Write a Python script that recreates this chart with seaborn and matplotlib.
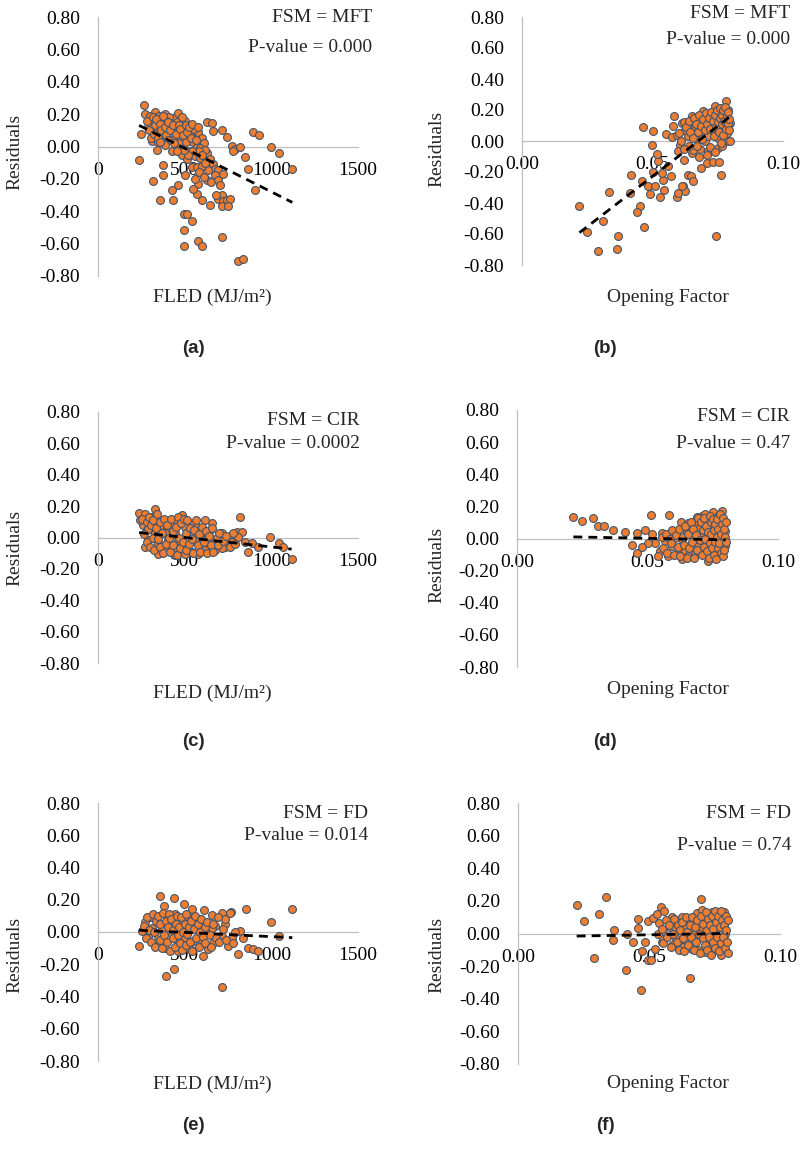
import numpy as np
import pandas as pd
import matplotlib
matplotlib.use("Agg")
import matplotlib.pyplot as plt
import seaborn as sns
from matplotlib.ticker import FuncFormatter

# residuals vs FLED (MJ/m2) / opening factor, one list of (x, residual) per panel
pts_a = [(265, 0.258), (237, -0.082), (248, 0.078),
         (271, 0.201), (300, 0.170), (329, 0.211), (348, 0.160), (319, 0.150), (367, 0.180),
         (387, 0.201), (396, 0.139), (425, 0.160), (444, 0.180), (463, 0.207), (473, 0.160),
         (492, 0.139), (502, 0.160), (521, 0.119), (540, 0.098), (560, 0.068), (579, 0.088),
         (550, 0.027), (588, 0.027), (569, -0.004), (531, -0.025),
         (627, 0.150), (660, 0.146), (665, 0.094), (714, 0.105), (742, 0.061), (627, -0.041),
         (608, -0.076), (646, -0.076), (665, -0.107), (675, -0.137), (637, -0.144), (694, -0.148),
         (675, -0.179), (627, -0.209), (579, -0.230), (598, -0.332), (646, -0.363), (569, -0.291),
         (550, -0.261), (463, -0.240), (425, -0.267), (435, -0.332), (358, -0.332), (319, -0.215),
         (377, -0.179), (377, -0.117), (310, 0.037), (348, 0.027), (425, -0.025), (463, -0.004),
         (483, -0.055), (512, -0.076), (540, -0.127), (502, -0.179), (569, -0.127),
         (771, 0.006), (790, -0.014), (819, 0.0), (781, -0.025), (848, -0.066), (867, -0.137),
         (906, -0.267), (892, 0.092), (929, 0.068), (996, 0.0), (1044, -0.041), (1121, -0.137),
         (694, -0.322), (714, -0.302), (723, -0.336), (742, -0.332), (762, -0.322), (714, -0.369),
         (752, -0.369), (498, -0.414), (512, -0.414), (544, -0.462), (494, -0.513), (717, -0.558),
         (575, -0.585), (598, -0.615), (496, -0.615), (810, -0.708), (839, -0.697),
         (290, 0.12), (310, 0.14), (340, 0.10), (360, 0.13), (380, 0.09), (400, 0.11), (420, 0.07),
         (440, 0.12), (460, 0.09), (480, 0.05), (500, 0.10), (520, 0.06), (455, 0.15), (410, 0.18),
         (350, 0.19), (300, 0.19), (330, 0.13), (370, 0.06), (390, 0.16), (470, 0.02), (510, 0.03),
         (530, 0.08), (555, 0.11), (600, 0.05), (610, 0.02), (590, -0.01), (620, -0.02),
         (560, -0.06), (600, -0.12), (590, -0.07),
         (280, 0.16), (295, 0.10), (305, 0.05), (315, 0.18), (325, 0.08), (335, 0.17), (345, 0.05),
         (355, 0.14), (365, 0.10), (375, 0.19), (385, 0.12), (395, 0.07), (405, 0.15), (415, 0.10),
         (430, 0.13), (435, 0.04), (450, 0.08), (465, 0.13), (475, 0.11), (485, 0.18), (490, 0.07),
         (505, 0.13), (515, 0.09), (525, 0.12), (535, 0.05), (545, 0.14), (565, 0.04), (575, 0.12),
         (585, -0.03), (545, -0.03), (520, -0.05), (495, -0.02), (455, -0.03), (440, 0.02),
         (405, 0.04), (385, 0.01), (360, 0.03), (340, -0.02), (600, -0.05), (615, -0.10),
         (585, -0.16), (560, -0.20), (610, -0.19), (650, -0.22), (690, -0.21), (680, -0.30),
         (720, -0.17), (705, -0.24)]

pts_b = [(0.0220, -0.421), (0.0250, -0.587), (0.0290, -0.707), (0.0363, -0.697), (0.0369, -0.615),
         (0.0312, -0.514), (0.0335, -0.331), (0.0418, -0.217), (0.0414, -0.335), (0.0452, -0.417),
         (0.0439, -0.460), (0.0469, -0.557), (0.0459, -0.260), (0.0484, -0.292), (0.0510, -0.292),
         (0.0490, -0.342), (0.0529, -0.363), (0.0545, -0.314), (0.0541, -0.249), (0.0503, -0.202),
         (0.0538, -0.207), (0.0571, -0.228), (0.0561, -0.163), (0.0522, -0.131), (0.0516, -0.082),
         (0.0499, -0.024), (0.0503, 0.062), (0.0462, 0.090), (0.0552, 0.047), (0.0580, 0.094),
         (0.0584, 0.159), (0.0576, 0.026), (0.0605, -0.024), (0.0599, -0.067), (0.0622, -0.120),
         (0.0650, -0.077), (0.0637, -0.217), (0.0648, -0.228), (0.0656, -0.260), (0.0618, -0.292),
         (0.0625, -0.325), (0.0593, -0.361), (0.0612, -0.292), (0.0599, -0.335), (0.0686, -0.174),
         (0.0707, -0.142), (0.0733, -0.138), (0.0755, -0.138), (0.0761, -0.217), (0.0742, -0.615),
         (0.0714, -0.067), (0.0682, -0.052), (0.0656, -0.056), (0.0752, -0.045), (0.0765, -0.034),
         (0.0791, -0.002), (0.0784, 0.052), (0.0771, 0.094), (0.0778, 0.138), (0.0782, 0.260),
         (0.0791, 0.202), (0.0752, 0.181), (0.0727, 0.159), (0.0701, 0.116), (0.0676, 0.138),
         (0.0650, 0.159), (0.0663, 0.094), (0.0625, 0.073), (0.0637, 0.030), (0.0688, 0.052),
         (0.0727, 0.062), (0.0752, 0.019), (0.0701, -0.002), (0.0669, 0.009), (0.0612, 0.116),
         (0.0593, 0.041), (0.0695, 0.191), (0.0739, 0.224), (0.0765, 0.191), (0.0797, 0.116),
         (0.0778, 0.170), (0.0733, 0.105), (0.0714, 0.030),
         (0.0600, 0.05), (0.0610, 0.00), (0.0620, 0.12), (0.0630, 0.09), (0.0640, 0.13),
         (0.0645, 0.06), (0.0655, 0.02), (0.0660, 0.15), (0.0665, 0.11), (0.0670, -0.03),
         (0.0675, 0.06), (0.0680, 0.17), (0.0685, 0.10), (0.0690, 0.01), (0.0695, 0.14),
         (0.0700, 0.07), (0.0705, 0.18), (0.0710, 0.11), (0.0715, 0.15), (0.0720, -0.04),
         (0.0720, 0.08), (0.0725, 0.19), (0.0730, 0.13), (0.0735, 0.03), (0.0740, 0.17),
         (0.0745, 0.09), (0.0748, 0.20), (0.0750, 0.12), (0.0755, 0.06), (0.0758, 0.15),
         (0.0760, 0.21), (0.0762, -0.01), (0.0765, 0.11), (0.0768, 0.17), (0.0770, 0.04),
         (0.0772, 0.20), (0.0775, 0.13), (0.0778, 0.22), (0.0780, 0.08), (0.0785, 0.16),
         (0.0788, 0.11), (0.0790, 0.19), (0.0793, 0.07), (0.0795, 0.14), (0.0798, 0.00),
         (0.0640, -0.03), (0.0620, -0.05), (0.0680, -0.10), (0.0710, -0.09), (0.0740, -0.07)]

pts_c = [(237, 0.153), (271, 0.149), (329, 0.179), (310, 0.132), (348, 0.106), (262, 0.079),
         (281, 0.047), (242, 0.110), (367, 0.079), (396, 0.051), (425, 0.089), (444, 0.110),
         (483, 0.142), (502, 0.068), (540, 0.089), (569, 0.068), (598, 0.036), (656, 0.094),
         (617, 0.110), (646, 0.047), (714, 0.026), (771, 0.015), (800, 0.036), (819, 0.132),
         (829, 0.036), (810, 0.004), (733, -0.060), (752, -0.038), (848, -0.028), (887, -0.032),
         (867, -0.091), (925, -0.060), (992, 0.004), (1044, -0.034), (1117, -0.134), (1069, -0.060),
         (406, -0.017), (348, -0.038), (290, -0.017), (271, -0.060), (387, -0.081), (444, -0.081),
         (502, -0.060), (540, -0.091), (579, -0.102), (637, -0.060), (675, -0.081), (714, -0.070),
         (617, -0.017), (560, -0.017), (463, -0.017), (521, 0.026), (387, 0.026), (329, 0.026),
         (290, 0.057), (444, 0.026), (540, 0.026), (675, -0.017), (771, -0.028), (617, -0.081),
         (502, -0.102), (444, -0.113), (348, -0.102),
         (255, 0.12), (265, 0.02), (280, 0.10), (285, -0.03), (295, 0.13), (300, -0.06),
         (305, 0.08), (315, 0.00), (320, 0.11), (325, -0.08), (335, 0.06), (340, 0.15),
         (345, -0.01), (355, 0.10), (360, -0.06), (370, 0.03), (375, -0.10), (380, 0.12),
         (395, -0.04), (400, 0.08), (410, 0.00), (415, -0.09), (420, 0.12), (430, 0.04),
         (435, -0.05), (450, 0.07), (455, -0.11), (460, 0.13), (470, 0.00), (475, -0.07),
         (480, 0.09), (490, -0.03), (495, 0.12), (505, 0.03), (510, -0.08), (515, 0.11),
         (525, -0.04), (530, 0.06), (545, -0.01), (550, -0.10), (555, 0.05), (565, 0.11),
         (575, -0.05), (585, 0.02), (590, -0.09), (600, 0.07), (610, -0.03), (625, 0.04),
         (630, -0.10), (640, 0.01), (650, -0.05), (660, 0.06), (665, -0.09), (685, 0.00),
         (690, -0.05), (700, 0.03), (720, -0.02), (740, 0.01), (760, -0.06), (780, 0.03),
         (790, -0.04)]

pts_d = [(0.0216, 0.131), (0.0250, 0.110), (0.0292, 0.125), (0.0309, 0.075), (0.0335, 0.079),
         (0.0369, 0.054), (0.0414, 0.042), (0.0458, 0.037), (0.0490, 0.054), (0.0513, 0.146),
         (0.0582, 0.146), (0.0439, -0.042), (0.0458, -0.088), (0.0516, 0.027), (0.0554, 0.033),
         (0.0529, -0.025), (0.0567, -0.015), (0.0593, -0.046), (0.0548, -0.077), (0.0580, -0.108),
         (0.0618, -0.088), (0.0644, -0.077), (0.0631, -0.004), (0.0628, 0.100), (0.0656, 0.096),
         (0.0650, 0.048), (0.0669, 0.037), (0.0695, 0.089), (0.0707, 0.142), (0.0720, 0.152),
         (0.0733, 0.121), (0.0752, 0.162), (0.0787, 0.173), (0.0778, 0.110), (0.0797, 0.048),
         (0.0765, 0.058), (0.0746, 0.006), (0.0720, -0.025), (0.0695, -0.046), (0.0682, -0.098),
         (0.0733, -0.140), (0.0771, -0.108), (0.0784, -0.067), (0.0746, -0.088), (0.0707, 0.017),
         (0.0676, -0.004), (0.0605, 0.006), (0.0503, -0.025), (0.0478, -0.056), (0.0541, -0.108),
         (0.0631, -0.129), (0.0656, -0.108), (0.0797, -0.046), (0.0791, -0.004), (0.0771, 0.142),
         (0.0739, 0.079), (0.0701, 0.069), (0.0688, 0.131),
         (0.0555, 0.01), (0.0560, -0.06), (0.0570, 0.03), (0.0575, -0.09), (0.0585, 0.00),
         (0.0590, -0.03), (0.0595, 0.05), (0.0600, -0.10), (0.0610, 0.02), (0.0615, -0.05),
         (0.0620, 0.06), (0.0625, -0.11), (0.0635, 0.01), (0.0640, -0.04), (0.0645, 0.08),
         (0.0650, -0.12), (0.0655, 0.03), (0.0660, -0.06), (0.0665, 0.10), (0.0670, -0.02),
         (0.0675, 0.06), (0.0680, -0.12), (0.0685, 0.02), (0.0690, -0.07), (0.0695, 0.13),
         (0.0700, -0.01), (0.0705, 0.10), (0.0710, -0.10), (0.0712, 0.05), (0.0715, -0.05),
         (0.0718, 0.13), (0.0722, 0.00), (0.0725, 0.08), (0.0728, -0.08), (0.0730, 0.04),
         (0.0735, -0.12), (0.0738, 0.14), (0.0740, -0.03), (0.0742, 0.10), (0.0745, 0.03),
         (0.0748, -0.06), (0.0750, 0.12), (0.0753, -0.10), (0.0755, 0.05), (0.0758, -0.02),
         (0.0760, 0.09), (0.0762, -0.13), (0.0765, 0.01), (0.0768, 0.12), (0.0770, -0.06),
         (0.0772, 0.06), (0.0775, -0.03), (0.0778, 0.15), (0.0780, -0.09), (0.0782, 0.03),
         (0.0785, 0.09), (0.0788, -0.11), (0.0790, 0.13), (0.0792, 0.06), (0.0795, -0.07),
         (0.0798, 0.01), (0.0800, 0.10), (0.0800, -0.02)]

pts_e = [(358, 0.225), (440, 0.211), (498, 0.173), (540, 0.142), (613, 0.136), (383, 0.163),
         (396, 0.100), (319, 0.090), (271, 0.059), (252, 0.007), (237, -0.087), (290, -0.025),
         (339, -0.077), (387, -0.098), (367, 0.027), (425, 0.048), (444, 0.111), (492, 0.069),
         (521, 0.090), (569, 0.079), (598, 0.048), (660, 0.104), (714, 0.117), (767, 0.121),
         (733, 0.048), (675, 0.038), (637, -0.014), (588, -0.046), (550, -0.056), (502, -0.035),
         (463, -0.066), (425, -0.014), (348, -0.025), (310, 0.027), (300, 0.090), (608, -0.150),
         (637, -0.108), (665, -0.066), (714, -0.025), (752, -0.087), (771, -0.035), (819, 0.007),
         (810, -0.139), (852, 0.142), (839, -0.035), (867, -0.098), (892, -0.108), (925, -0.118),
         (996, 0.063), (1044, -0.025), (1121, 0.142), (439, -0.227), (390, -0.270), (717, -0.343),
         (531, -0.108), (463, -0.118), (733, 0.079), (656, 0.027),
         (265, 0.04), (275, -0.04), (285, 0.09), (295, 0.01), (305, -0.06), (315, 0.11),
         (325, 0.00), (330, -0.09), (335, 0.07), (345, 0.10), (355, -0.05), (360, 0.05),
         (370, -0.10), (375, 0.12), (380, -0.02), (390, 0.07), (400, -0.06), (405, 0.03),
         (410, 0.11), (415, -0.12), (420, 0.08), (430, -0.04), (435, 0.01), (445, -0.09),
         (450, 0.05), (455, 0.10), (460, -0.02), (470, 0.03), (475, -0.07), (480, 0.09),
         (485, -0.11), (490, 0.00), (500, 0.05), (505, -0.08), (510, 0.11), (515, -0.01),
         (525, 0.03), (530, -0.06), (535, 0.07), (545, -0.12), (555, 0.02), (560, 0.10),
         (565, -0.04), (575, 0.05), (580, -0.09), (590, 0.00), (595, 0.08), (605, -0.03),
         (615, 0.03), (620, -0.07), (630, 0.06), (645, -0.02), (650, -0.09), (665, 0.05),
         (680, -0.04), (690, 0.09), (700, -0.06), (720, 0.02), (740, -0.05), (760, 0.12),
         (780, -0.07), (790, 0.00)]

pts_f = [(0.0224, 0.174), (0.0252, 0.078), (0.0291, -0.148), (0.0310, 0.119), (0.0335, 0.226),
         (0.0368, 0.021), (0.0361, -0.037), (0.0415, 0.000), (0.0412, -0.226), (0.0440, -0.055),
         (0.0459, 0.031), (0.0457, 0.088), (0.0469, -0.344), (0.0475, -0.107), (0.0485, -0.051),
         (0.0497, -0.164), (0.0508, -0.164), (0.0495, 0.078), (0.0517, 0.098), (0.0529, 0.119),
         (0.0546, 0.164), (0.0558, 0.139), (0.0539, 0.066), (0.0523, -0.092), (0.0548, -0.051),
         (0.0561, -0.010), (0.0580, 0.041), (0.0587, 0.103), (0.0625, 0.103), (0.0599, -0.021),
         (0.0612, -0.082), (0.0637, -0.051), (0.0656, 0.082), (0.0658, -0.273), (0.0663, 0.021),
         (0.0682, 0.123), (0.0698, 0.209), (0.0701, 0.143), (0.0714, 0.062), (0.0726, 0.000),
         (0.0739, 0.133), (0.0758, 0.133), (0.0777, 0.103), (0.0787, 0.133), (0.0790, 0.000),
         (0.0775, -0.133), (0.0739, -0.113), (0.0714, -0.113), (0.0688, -0.103), (0.0663, -0.092),
         (0.0631, -0.082), (0.0587, -0.072), (0.0555, -0.031), (0.0765, -0.051), (0.0726, -0.062),
         (0.0688, -0.021), (0.0765, 0.051), (0.0739, 0.062), (0.0701, 0.041), (0.0637, 0.041),
         (0.0599, 0.041), (0.0536, 0.000), (0.0777, -0.041), (0.0752, 0.000), (0.0676, 0.000),
         (0.0550, 0.03), (0.0555, -0.06), (0.0565, 0.08), (0.0570, -0.02), (0.0575, 0.05),
         (0.0585, -0.08), (0.0590, 0.00), (0.0595, 0.09), (0.0605, -0.05), (0.0610, 0.05),
         (0.0615, -0.10), (0.0620, 0.02), (0.0625, 0.07), (0.0630, -0.03), (0.0635, -0.11),
         (0.0640, 0.10), (0.0645, 0.01), (0.0650, -0.07), (0.0655, 0.05), (0.0660, -0.02),
         (0.0665, 0.10), (0.0670, -0.10), (0.0675, 0.04), (0.0680, -0.05), (0.0685, 0.08),
         (0.0690, 0.00), (0.0695, -0.12), (0.0700, 0.11), (0.0705, -0.03), (0.0708, 0.06),
         (0.0712, -0.07), (0.0716, 0.13), (0.0720, 0.02), (0.0723, -0.10), (0.0727, 0.09),
         (0.0730, -0.02), (0.0733, 0.05), (0.0737, -0.13), (0.0740, 0.11), (0.0743, -0.05),
         (0.0746, 0.03), (0.0750, 0.14), (0.0753, -0.09), (0.0756, 0.07), (0.0760, -0.02),
         (0.0763, 0.11), (0.0766, -0.11), (0.0770, 0.04), (0.0773, 0.14), (0.0776, -0.06),
         (0.0780, 0.08), (0.0783, -0.02), (0.0786, 0.05), (0.0789, -0.09), (0.0792, 0.11),
         (0.0795, 0.02), (0.0798, -0.05), (0.0800, 0.08), (0.0800, -0.12)]

# linear trend lines (intercept, slope)
trend_a = (0.258, -0.000538)
trend_b = (-0.877, 12.98)
trend_c = (0.060, -0.00012)
trend_d = (0.0169, -0.317)
trend_e = (0.0231, -0.0000518)
trend_f = (-0.0222, 0.285)

fsm = ["MFT", "MFT", "CIR", "CIR", "FD", "FD"]
pvals = ["0.000", "0.000", "0.0002", "0.47", "0.014", "0.74"]
tags = ["(a)", "(b)", "(c)", "(d)", "(e)", "(f)"]

sns.set_theme(style="white")
plt.rcParams['font.family'] = ['Liberation Serif', 'DejaVu Serif']

W, H = 805, 1149
fig = plt.figure(figsize=(W / 100, H / 100), dpi=100)

# axes boxes in pixels: left, right, top, bottom
boxes = [(98, 358, 17, 276), (522, 783, 17, 265),
         (98, 358, 412, 663), (517, 778, 410, 667),
         (98, 358, 803, 1061), (518, 780, 803, 1064)]
xlabel_y = [297, 298, 693, 690, 1084, 1083]
ylabel_pos = [(15, 152), (437, 149), (15, 548), (437, 565), (15, 955), (437, 955)]
note_pos = [(372, 18, 47), (790, 13, 40), (360, 420, 443), (790, 417, 443),
            (368, 813, 836), (791, 813, 845)]
tag_y = [349, 349, 742, 742, 1125, 1125]

data = [pts_a, pts_b, pts_c, pts_d, pts_e, pts_f]
trends = [trend_a, trend_b, trend_c, trend_d, trend_e, trend_f]
grey = '#bfbfbf'
fs = 14


def fmt2(v, pos):
    return '%.2f' % (0.0 if abs(v) < 1e-9 else v)


for i in range(6):
    l, r, t, b = boxes[i]
    ax = fig.add_axes([l / W, 1 - b / H, (r - l) / W, (b - t) / H])
    fled = (i % 2 == 0)
    df = pd.DataFrame(data[i], columns=['x', 'res'])
    sns.scatterplot(data=df, x='x', y='res', ax=ax, color='#ED7D31', edgecolor='#44546A',
                    s=32, linewidth=0.8, zorder=3)
    b0, b1 = trends[i]
    xs = np.array([df.x.min(), df.x.max()])
    sns.lineplot(x=xs, y=b0 + b1 * xs, ax=ax, color='black', lw=2.0, zorder=4)
    ax.lines[-1].set_dashes([3.2, 2.2])

    if fled:
        ax.set_xlim(0, 1500)
        ax.set_xticks([0, 500, 1000, 1500])
        ax.xaxis.set_major_formatter(FuncFormatter(lambda v, p: '%d' % v))
    else:
        ax.set_xlim(0, 0.1)
        ax.set_xticks([0, 0.05, 0.1])
        ax.xaxis.set_major_formatter(FuncFormatter(fmt2))
    ax.set_ylim(-0.8, 0.8)
    ax.set_yticks(np.arange(-0.8, 0.81, 0.2))
    ax.yaxis.set_major_formatter(FuncFormatter(fmt2))

    for s in ['top', 'right']:
        ax.spines[s].set_visible(False)
    ax.spines['left'].set_color(grey)
    ax.spines['bottom'].set_color(grey)
    ax.spines['left'].set_linewidth(0.9)
    ax.spines['bottom'].set_linewidth(0.9)
    ax.spines['bottom'].set_position(('data', 0))
    ax.tick_params(axis='both', length=0, labelsize=fs, colors='black')
    ax.tick_params(axis='x', pad=11)
    ax.tick_params(axis='y', pad=13)
    ax.set_xlabel('')
    ax.set_ylabel('')
    ax.set_facecolor('none')

    cx = 212 if fled else 668
    fig.text(cx / W, 1 - xlabel_y[i] / H,
             'FLED (MJ/m²)' if fled else 'Opening Factor',
             ha='center', va='center', fontsize=fs)
    yx, yy = ylabel_pos[i]
    fig.text(yx / W, 1 - yy / H, 'Residuals', rotation=90, ha='center', va='center',
             fontsize=fs)
    nx, n1, n2 = note_pos[i]
    fig.text(nx / W, 1 - n1 / H, 'FSM = ' + fsm[i], ha='right', va='center', fontsize=fs)
    fig.text(nx / W, 1 - n2 / H, 'P-value = ' + pvals[i], ha='right', va='center',
             fontsize=fs)
    fig.text((193 if fled else 605) / W, 1 - tag_y[i] / H, tags[i], ha='center', va='center',
             fontsize=13.5, fontweight='bold', family=['Liberation Sans', 'DejaVu Sans'])

fig.savefig('out.png', dpi=100)
